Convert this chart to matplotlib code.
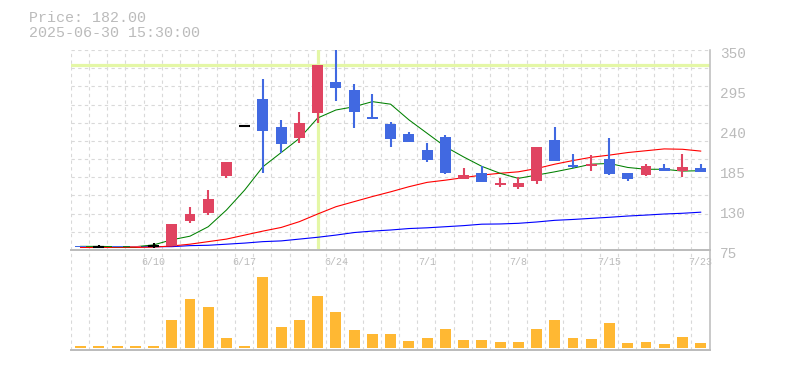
import matplotlib
matplotlib.use("Agg")
import matplotlib.pyplot as plt
from matplotlib import transforms

# daily candles 2025-06-04 .. 2025-07-23 (trading days only)
opens = [80, 79, 80, 78.5, 80, 80, 115, 126, 177, 245.5, 282, 244, 229, 264, 306, 295, 258, 248,
         234, 212, 230, 172, 181, 165, 162, 170, 226, 192, 190, 200, 181, 178, 188, 184, 188]
highs = [80, 82, 80, 81, 84, 111, 134.5, 157.5, 196, 245.5, 310, 254, 265, 330, 350, 303, 290, 251,
         237, 222, 233, 188, 190, 174, 176, 217, 244, 207, 206, 229, 181, 193, 193, 207, 193]
lows = [79, 79, 79, 78.5, 78, 80, 112, 123, 174, 245.5, 181, 208, 222, 250, 280, 243, 255, 217,
        223, 196, 179, 172, 168, 162, 159, 166, 198, 188, 183, 178, 170, 177, 184, 176, 182]
closes = [79, 79, 79, 81, 80, 111, 124, 145, 196, 245.5, 239, 221, 250, 329.5, 298, 265, 255, 228,
          224, 199, 181, 178, 168, 167, 167, 217, 198, 189, 193, 179, 173, 190, 184, 189, 182]
volume = [20, 20, 20, 20, 20, 280, 490, 410, 100, 20, 710, 210, 280, 520, 360, 180, 140, 140,
          70, 100, 190, 80, 80, 60, 60, 190, 280, 100, 90, 250, 50, 60, 40, 110, 50]

ma_short = [80, 80, 79.5, 79.5, 82, 89, 94, 107, 130, 157.5, 189.5, 209, 228.5, 256.5, 267.5, 272,
            279, 275.5, 254, 235.5, 217, 203, 190, 180.5, 173.5, 178, 182.5, 187.5, 193, 194,
            188.5, 186, 186, 183.5, 184]
ma_mid = [78.5, 78.5, 78.5, 78.5, 79, 80.5, 83, 86.5, 90, 95.5, 101, 106, 114, 124.5, 134.5, 141.5,
          148.5, 155, 162, 168, 171, 174.5, 178, 180.5, 182.5, 187, 193, 198, 202.5, 205.5, 209,
          211.5, 214, 213.5, 211]
ma_long = [78.7, 78.9, 79.1, 79.3, 79.6, 79.6, 81, 81.5, 83, 84.5, 86.5, 87.5, 90, 92.5, 95.5, 99,
           101, 102.5, 104.5, 105.5, 107, 108.5, 110.5, 110.8, 111.7, 113.5, 115.8, 117, 118.5,
           120, 121.7, 123, 124.5, 125.5, 127]

date_pos = [4, 9, 14, 19, 24, 29, 34]
date_labels = ["6/10", "6/17", "6/24", "7/1", "7/8", "7/15", "7/23"]
price_ticks = [75, 130, 185, 240, 295, 350]

UP = "#e04461"
DOWN = "#4169e1"
GRID = "#d9d9d9"
TXT = "#bbbbbb"
MONO = "Liberation Mono"

x = list(range(len(opens)))

fig = plt.figure(figsize=(7.85, 3.70), dpi=100)
ax = fig.add_axes([70.7 / 785, 120 / 370, 639.3 / 785, 200 / 370])
vax = fig.add_axes([70.7 / 785, 20 / 370, 639.3 / 785, 100 / 370], facecolor="none")

fig.text(29 / 785, 1 - 18 / 370, "Price: 182.00", fontfamily=MONO, fontsize=10.8,
         color=TXT, va="center")
fig.text(29 / 785, 1 - 33 / 370, "2025-06-30 15:30:00", fontfamily=MONO, fontsize=10.8,
         color=TXT, va="center")

# candles
for i in x:
    o, h, l, c = opens[i], highs[i], lows[i], closes[i]
    if c > o:
        col = UP
    elif c < o:
        col = DOWN
    else:
        col = "black"
    ax.vlines(i, l, h, color=col, lw=1.5, zorder=3)
    if c == o:
        ax.hlines(o, i - 0.3, i + 0.3, color="black", lw=1.5, zorder=3)
    else:
        ax.bar(i, c - o, bottom=o, width=0.6, color=col, zorder=3)

ax.plot(x, ma_long, color="#0000ff", lw=0.8, zorder=2)
ax.plot(x, ma_mid, color="#ff0000", lw=0.8, zorder=2)
ax.plot(x, ma_short, color="#008000", lw=0.75, zorder=2)

# crosshair
ax.axvline(13, color="#e4f7a6", lw=2.3, zorder=1.5)
ax.axhline(329.5, color="#e4f7a6", lw=2.3, zorder=1.5)

xlim = (-0.54, 34.51)
grid_x = [k - 0.54 for k in range(35)]

ax.set_xlim(*xlim)
ax.set_ylim(75, 350)
ax.yaxis.tick_right()
ax.set_yticks(price_ticks)
ax.set_yticks(list(range(75, 351, 25)), minor=True)
ax.set_xticks(date_pos, date_labels)
ax.set_xticks(grid_x, minor=True)
ax.xaxis.remove_overlapping_locs = False
ax.yaxis.remove_overlapping_locs = False
ax.grid(which="minor", color=GRID, lw=0.8, linestyle=(0, (3, 3)))
ax.set_axisbelow(True)
ax.tick_params(which="both", length=0)
ax.tick_params(axis="y", pad=7, labelsize=10.4, labelcolor=TXT)
ax.tick_params(axis="x", pad=5, labelsize=7.2, labelcolor=TXT)
for lbl in ax.get_yticklabels() + ax.get_xticklabels():
    lbl.set_fontfamily(MONO)
offset = transforms.ScaledTranslation(0, -3 / 100, fig.dpi_scale_trans)
for lbl in ax.get_yticklabels():
    lbl.set_transform(lbl.get_transform() + offset)
for s in ["top", "left"]:
    ax.spines[s].set_visible(False)
ax.spines["bottom"].set_color(TXT)
ax.spines["bottom"].set_linewidth(1.4)
ax.spines["right"].set_color(TXT)
ax.spines["right"].set_linewidth(1.1)

# volume
vax.bar(x, volume, width=0.6, color="#ffb833", zorder=3)
vax.set_xlim(*xlim)
vax.set_ylim(-20, 980)
vax.set_xticks([])
vax.set_xticks(grid_x, minor=True)
vax.set_yticks([])
vax.grid(which="minor", axis="x", color=GRID, lw=0.8, linestyle=(0, (3, 3)))
vax.tick_params(which="both", length=0, labelbottom=False)
for s in ["top", "left"]:
    vax.spines[s].set_visible(False)
vax.spines["bottom"].set_color(TXT)
vax.spines["bottom"].set_linewidth(1.4)
vax.spines["right"].set_color(TXT)
vax.spines["right"].set_linewidth(1.1)

fig.savefig("out.png", dpi=100)
